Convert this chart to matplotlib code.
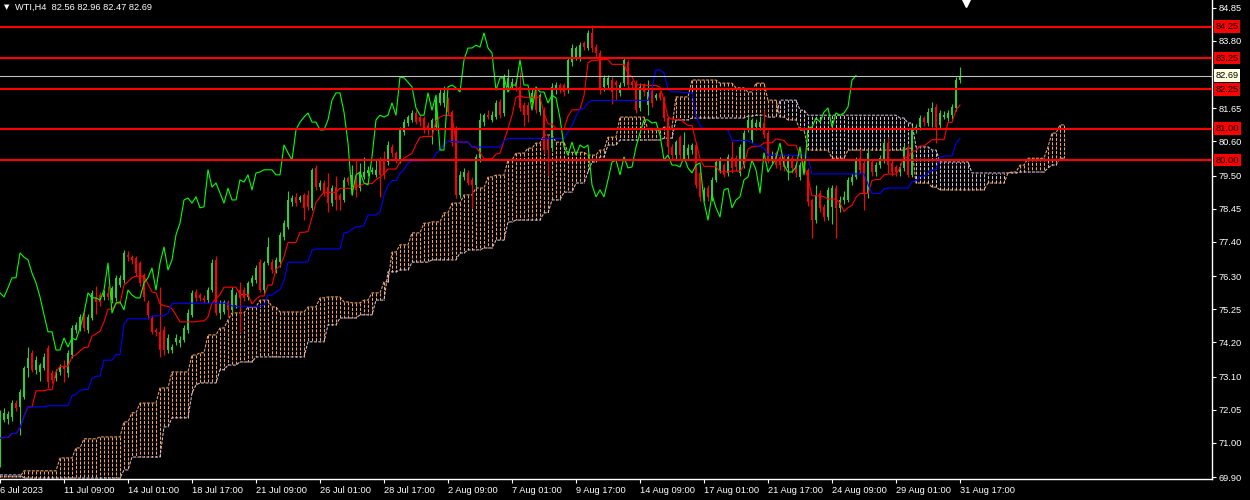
import numpy as np
import pandas as pd
import matplotlib
matplotlib.use("Agg")
import matplotlib.pyplot as plt
from matplotlib.transforms import blended_transform_factory

plt.rcParams['font.family'] = ['Liberation Sans', 'DejaVu Sans']

# WTI H4 candles, 6 Jul - 31 Aug 2023
opens = [70.61, 71.72, 71.75, 71.80, 72.26, 72.14, 72.46, 73.38, 73.86, 73.32,
         73.25, 73.38, 74.02, 73.22, 73.06, 73.25, 73.40, 73.22, 73.79, 74.59,
         74.65, 75.00, 74.60, 74.97, 75.64, 75.70, 75.64, 75.77, 75.54, 75.61,
         76.02, 76.18, 76.98, 76.91, 76.88, 76.72, 76.34, 75.45, 74.97, 74.59,
         74.53, 74.59, 73.95, 73.95, 74.20, 74.17, 74.27, 74.59, 75.07, 75.80,
         75.70, 75.61, 75.54, 75.86, 76.82, 75.13, 75.17, 75.48, 75.23, 75.39,
         75.86, 75.86, 75.64, 76.09, 76.18, 76.75, 75.86, 76.72, 76.75, 76.50,
         76.75, 77.55, 77.87, 78.67, 78.83, 78.73, 78.89, 78.89, 78.48, 79.75,
         79.14, 79.27, 79.14, 78.63, 79.14, 78.89, 78.73, 79.43, 79.05, 79.46,
         79.10, 79.46, 79.59, 79.62, 79.53, 80.00, 80.00, 79.94, 80.42, 80.23,
         80.00, 80.90, 81.18, 81.28, 81.50, 81.37, 81.34, 81.12, 80.96, 81.05,
         81.82, 81.82, 81.91, 81.53, 80.96, 78.89, 79.46, 79.59, 79.37, 79.21,
         80.06, 81.21, 81.43, 81.28, 81.37, 81.85, 81.50, 82.33, 82.39, 82.48,
         82.33, 81.75, 81.75, 81.85, 82.17, 81.53, 81.59, 80.70, 80.39, 82.23,
         82.39, 82.39, 82.23, 83.12, 83.28, 83.25, 83.72, 83.57, 84.05, 83.60,
         83.41, 82.33, 82.39, 82.55, 82.48, 82.14, 82.45, 83.12, 82.48, 82.45,
         81.66, 82.39, 81.75, 82.30, 81.98, 82.14, 81.98, 81.34, 80.42, 80.16,
         80.73, 80.10, 80.16, 80.32, 80.48, 79.59, 78.83, 79.10, 78.79, 79.37,
         79.69, 79.84, 79.59, 80.10, 80.06, 79.59, 79.84, 81.02, 80.64, 81.05,
         81.05, 81.18, 80.86, 80.00, 80.23, 80.10, 80.10, 79.75, 80.06, 79.84,
         79.46, 79.69, 79.69, 78.73, 78.09, 78.95, 78.51, 78.19, 78.51, 79.10,
         78.48, 78.73, 78.73, 79.30, 79.46, 80.06, 79.91, 78.95, 79.94, 79.62,
         79.84, 80.00, 80.54, 79.91, 79.78, 79.62, 79.75, 80.42, 79.53, 80.96,
         81.05, 81.34, 81.18, 81.53, 81.69, 81.12, 81.37, 81.34, 81.43, 81.66,
         82.56]
highs = [72.05, 72.10, 72.00, 72.35, 72.35, 72.70, 73.45, 74.05, 73.95, 73.75,
         73.55, 73.85, 74.12, 73.30, 73.35, 73.50, 73.63, 73.95, 74.75, 74.85,
         75.10, 75.15, 75.10, 75.85, 76.00, 75.80, 75.85, 76.00, 76.00, 76.35,
         76.35, 77.15, 77.10, 76.98, 76.95, 76.80, 76.40, 75.55, 75.05, 74.65,
         75.96, 74.70, 74.45, 74.15, 74.45, 74.40, 74.75, 75.25, 75.85, 75.90,
         75.78, 75.70, 75.95, 76.85, 76.95, 75.55, 75.55, 75.55, 75.95, 75.80,
         76.12, 75.95, 76.15, 76.35, 76.65, 76.85, 76.80, 77.55, 76.85, 76.90,
         77.70, 78.10, 79.00, 78.90, 78.95, 78.90, 78.95, 79.05, 79.75, 79.85,
         79.35, 79.35, 79.60, 79.20, 79.50, 78.95, 79.45, 79.50, 79.85, 80.00,
         79.90, 80.10, 79.80, 79.78, 80.00, 80.10, 80.30, 80.60, 80.50, 80.30,
         81.05, 81.30, 81.45, 81.60, 81.60, 81.45, 81.40, 81.20, 81.35, 82.00,
         82.25, 82.35, 82.00, 81.60, 81.10, 79.65, 79.75, 79.70, 79.45, 80.20,
         81.50, 81.50, 81.60, 81.55, 81.90, 81.95, 82.75, 82.90, 82.60, 82.55,
         82.80, 81.85, 81.85, 82.30, 82.25, 82.15, 81.70, 80.80, 82.45, 82.50,
         82.45, 82.45, 83.30, 83.70, 83.65, 83.75, 83.80, 84.15, 84.30, 83.70,
         83.50, 82.70, 82.70, 82.65, 82.55, 82.50, 83.30, 83.20, 82.55, 82.55,
         82.45, 82.45, 82.55, 82.40, 82.15, 82.20, 82.05, 81.40, 80.50, 80.65,
         80.80, 80.90, 80.50, 80.55, 80.55, 79.70, 79.15, 79.20, 79.45, 80.05,
         80.10, 79.90, 80.20, 80.60, 80.15, 80.50, 80.95, 81.40, 81.35, 81.30,
         81.40, 81.60, 80.95, 80.30, 80.30, 80.20, 80.15, 80.20, 80.15, 79.90,
         79.95, 80.00, 79.75, 78.80, 79.20, 79.05, 78.60, 79.15, 79.20, 79.20,
         78.85, 79.00, 79.45, 79.60, 80.10, 80.35, 80.00, 80.35, 80.00, 79.95,
         80.15, 80.65, 80.70, 80.00, 79.85, 79.90, 80.50, 80.50, 81.10, 81.15,
         81.45, 81.40, 81.65, 81.85, 81.80, 81.60, 81.55, 81.60, 81.80, 82.65,
         82.96]
lows = [70.23, 71.65, 71.60, 71.70, 72.00, 71.25, 72.40, 73.10, 73.25, 73.20,
        72.95, 73.30, 72.74, 72.90, 72.95, 73.15, 72.93, 73.10, 73.70, 74.50,
        74.55, 74.55, 74.50, 74.90, 75.10, 75.35, 75.55, 75.55, 75.45, 75.50,
        75.95, 76.10, 76.80, 76.70, 76.30, 76.00, 75.50, 74.95, 74.45, 74.40,
        73.73, 73.80, 73.85, 73.85, 74.10, 74.05, 74.20, 74.50, 75.00, 75.50,
        75.50, 75.45, 75.45, 75.80, 75.05, 74.95, 75.10, 75.00, 75.15, 75.30,
        74.49, 75.50, 75.55, 76.00, 76.10, 75.80, 75.75, 76.65, 76.40, 76.40,
        76.60, 77.45, 77.80, 78.55, 78.55, 78.65, 78.10, 78.40, 78.40, 79.05,
        79.05, 78.85, 78.35, 78.55, 78.40, 78.40, 78.65, 79.20, 78.90, 78.83,
        79.00, 79.40, 79.50, 79.55, 79.45, 78.83, 79.40, 79.85, 80.10, 79.90,
        79.90, 80.80, 81.10, 81.20, 81.15, 81.10, 80.85, 80.80, 80.50, 80.95,
        81.75, 81.70, 81.45, 80.45, 78.80, 78.80, 79.35, 79.20, 78.48, 79.10,
        79.95, 81.10, 81.30, 81.20, 81.30, 81.35, 81.40, 82.20, 82.30, 82.20,
        81.55, 81.10, 81.20, 81.75, 81.50, 81.45, 80.20, 79.50, 80.30, 82.10,
        82.15, 82.05, 82.15, 83.00, 83.20, 83.15, 83.50, 83.50, 83.45, 83.30,
        82.10, 82.20, 82.30, 81.80, 81.90, 82.05, 82.35, 82.30, 82.30, 81.50,
        81.55, 82.05, 81.45, 81.70, 81.90, 81.90, 81.25, 80.20, 80.05, 80.05,
        80.05, 80.00, 80.05, 80.20, 79.10, 78.70, 78.70, 78.70, 78.70, 79.30,
        79.60, 79.45, 79.50, 79.60, 79.65, 79.50, 79.75, 80.90, 80.55, 80.95,
        80.95, 80.70, 79.90, 79.90, 79.75, 79.70, 79.65, 79.35, 79.60, 79.45,
        79.35, 79.60, 78.55, 77.52, 78.00, 78.35, 78.05, 78.10, 77.95, 77.52,
        78.35, 78.60, 78.65, 79.20, 79.40, 79.60, 78.41, 78.80, 79.50, 79.50,
        79.75, 79.90, 79.60, 79.50, 79.50, 79.50, 79.65, 79.45, 79.45, 80.85,
        80.95, 81.10, 81.10, 81.05, 80.55, 81.00, 81.30, 81.25, 81.30, 81.55,
        82.47]
closes = [71.95, 71.95, 71.92, 72.26, 72.11, 72.61, 73.38, 73.70, 73.32, 73.63,
          73.47, 73.73, 72.93, 73.00, 73.25, 73.41, 73.36, 73.86, 74.65, 74.75,
          75.00, 74.65, 75.00, 75.77, 75.48, 75.48, 75.77, 75.64, 75.93, 76.25,
          76.25, 77.04, 76.91, 76.82, 76.40, 76.09, 75.64, 75.07, 74.53, 74.53,
          73.95, 73.95, 74.33, 74.05, 74.33, 74.27, 74.65, 75.13, 75.77, 75.61,
          75.61, 75.54, 75.86, 76.72, 75.13, 75.45, 75.48, 75.23, 75.86, 75.70,
          75.61, 75.61, 76.09, 76.25, 76.56, 75.86, 76.72, 77.23, 76.50, 76.82,
          77.62, 77.99, 78.73, 78.79, 78.63, 78.83, 78.48, 78.51, 79.69, 79.14,
          79.27, 78.95, 78.63, 79.10, 78.73, 78.73, 79.37, 79.30, 79.53, 79.05,
          79.59, 79.62, 79.69, 79.69, 79.69, 79.53, 79.53, 80.48, 80.23, 80.00,
          80.96, 81.21, 81.37, 81.50, 81.21, 81.21, 80.96, 80.96, 81.28, 81.91,
          82.14, 82.14, 81.53, 80.54, 78.89, 79.53, 79.62, 79.27, 79.21, 80.10,
          81.28, 81.43, 81.37, 81.43, 81.82, 81.43, 82.65, 82.62, 82.48, 82.33,
          81.66, 81.43, 81.43, 82.14, 81.59, 82.07, 80.32, 80.32, 82.33, 82.39,
          82.30, 82.17, 83.19, 83.57, 83.57, 83.66, 83.60, 84.05, 83.57, 83.41,
          82.23, 82.62, 82.62, 82.17, 82.39, 82.39, 83.19, 82.39, 82.39, 81.59,
          82.33, 82.17, 82.17, 81.82, 82.07, 81.98, 81.34, 80.42, 80.16, 80.57,
          80.16, 80.48, 80.39, 80.48, 79.21, 78.83, 79.05, 78.83, 79.37, 79.94,
          80.00, 79.53, 80.10, 79.75, 79.78, 80.42, 80.86, 81.28, 81.28, 81.18,
          81.21, 80.80, 80.00, 80.16, 79.84, 79.84, 79.78, 80.10, 79.75, 79.59,
          79.84, 79.91, 78.67, 78.09, 78.89, 78.48, 78.19, 79.05, 79.10, 78.48,
          78.73, 78.83, 79.37, 79.46, 80.00, 79.69, 78.95, 80.23, 79.62, 79.84,
          80.06, 80.54, 79.84, 79.62, 79.62, 79.78, 80.42, 79.53, 81.02, 81.05,
          81.34, 81.21, 81.53, 81.66, 81.05, 81.50, 81.43, 81.50, 81.69, 82.55,
          82.69]

# Ichimoku cloud spans (26 bars ahead), as (first bar, price) steps
span_a_steps = [(0, 69.91), (6, 70.10), (15, 70.51), (19, 70.83), (21, 71.12),
                (25, 71.18), (31, 71.66), (33, 71.95), (35, 72.26), (40, 72.74),
                (43, 73.25), (48, 73.79), (50, 73.86), (52, 74.43), (55, 74.65),
                (57, 74.91), (58, 75.13), (62, 75.32), (65, 75.54), (68, 75.32),
                (70, 75.16), (77, 75.32), (80, 75.61), (82, 75.64), (86, 75.48),
                (88, 75.45), (91, 75.54), (93, 75.77), (96, 76.12), (98, 77.07),
                (100, 77.30), (103, 77.68), (106, 77.99), (108, 78.03), (111, 78.32),
                (113, 78.63), (116, 78.89), (119, 79.11), (122, 79.46), (124, 79.52),
                (127, 80.00), (129, 80.22), (132, 80.38), (134, 80.54), (136, 80.80),
                (139, 80.57), (142, 80.25), (147, 80.16), (150, 80.32), (152, 80.73),
                (155, 81.37), (162, 80.96), (166, 81.05), (169, 82.01), (173, 82.55),
                (180, 82.45), (184, 82.30), (187, 82.17), (189, 82.45), (192, 81.91),
                (195, 81.37), (197, 81.28), (200, 80.96), (202, 80.32), (208, 80.06),
                (212, 80.32), (227, 80.38), (229, 79.27), (233, 79.14), (235, 79.05),
                (247, 79.27), (252, 79.59), (253, 79.62), (255, 79.84), (257, 80.06),
                (262, 80.42), (263, 80.86), (265, 81.12)]
span_b_steps = [(0, 69.97), (6, 69.87), (31, 70.13), (33, 70.54), (41, 71.50),
                (43, 71.79), (48, 72.58), (49, 72.84), (50, 72.90), (55, 73.32),
                (57, 73.47), (60, 73.57), (64, 73.73), (77, 74.21), (82, 74.75),
                (85, 74.97), (90, 75.07), (94, 75.54), (97, 76.44), (100, 76.50),
                (103, 76.75), (108, 76.82), (115, 77.04), (117, 77.14), (121, 77.20),
                (124, 77.45), (127, 78.03), (129, 78.09), (136, 78.32), (138, 78.73),
                (141, 78.98), (144, 79.27), (147, 79.62), (148, 79.94), (150, 80.10),
                (152, 80.48), (155, 80.64), (166, 80.70), (169, 81.28), (173, 81.34),
                (187, 81.40), (189, 81.43), (192, 81.37), (195, 81.91), (200, 81.59),
                (202, 81.43), (225, 81.34), (227, 81.18), (229, 80.42), (233, 80.32),
                (235, 79.94), (243, 79.59), (255, 79.62), (262, 79.75), (263, 79.84),
                (265, 80.06)]
cloud_len = 267

levels = [84.25, 83.25, 82.25, 81.00, 80.00]
bid = 82.69
price_ticks = [84.85, 83.80, 81.65, 80.60, 79.50, 78.45, 77.40, 76.30,
               75.25, 74.20, 73.10, 72.05, 71.00, 69.90]
time_ticks = [0, 16, 32, 48, 64, 80, 96, 112, 128, 144, 160, 176, 192, 208, 224, 240]
time_labels = ['6 Jul 2023', '11 Jul 09:00', '14 Jul 01:00', '18 Jul 17:00',
               '21 Jul 09:00', '26 Jul 01:00', '28 Jul 17:00', '2 Aug 09:00',
               '7 Aug 01:00', '9 Aug 17:00', '14 Aug 09:00', '17 Aug 01:00',
               '21 Aug 17:00', '24 Aug 09:00', '29 Aug 01:00', '31 Aug 17:00']
title = 'WTI,H4  82.56 82.96 82.47 82.69'


def expand(steps, n):
    out = np.empty(n)
    for k, (start, val) in enumerate(steps):
        end = steps[k + 1][0] if k + 1 < len(steps) else n
        out[start:end] = val
    return out


df = pd.DataFrame({'o': opens, 'h': highs, 'l': lows, 'c': closes})
n = len(df)
x = np.arange(n)
tenkan = (df.h.rolling(9, min_periods=1).max() + df.l.rolling(9, min_periods=1).min()) / 2
kijun = (df.h.rolling(26, min_periods=1).max() + df.l.rolling(26, min_periods=1).min()) / 2
chikou = df.c.values[26:]
span_a = expand(span_a_steps, cloud_len)
span_b = expand(span_b_steps, cloud_len)

SANDY = '#F4A460'
THISTLE = '#D8BFD8'
BULL = '#32CD32'
BEAR = '#FF0000'
FG = '#FFFFFF'
FS = 6.7
dash = (0, (2.9, 1.3))

fig = plt.figure(figsize=(12.5, 5), dpi=100, facecolor='black')
ax = fig.add_axes([0, 21 / 500, 1212 / 1250, 479 / 500])
ax.set_facecolor('black')
ax.set_xlim(0, 303)
ax.set_ylim(69.84, 85.10)

# cloud: dotted histogram between the spans
cx = np.arange(cloud_len)
cols = [SANDY if a >= b else THISTLE for a, b in zip(span_a, span_b)]
ax.vlines(cx, span_a, span_b, colors=cols, linestyles=dash, linewidth=0.75, zorder=1)
ax.plot(cx, span_a, color=SANDY, ls=dash, lw=0.75, zorder=1)
ax.plot(cx, span_b, color=THISTLE, ls=dash, lw=0.75, zorder=1)

# candles
up = df.c >= df.o
ccol = np.where(up, BULL, BEAR)
ax.vlines(x, df.l, df.h, colors=ccol, linewidth=0.8, zorder=2)
body_lo = np.minimum(df.o, df.c)
body_h = np.maximum(np.abs(df.c - df.o), 0.035)
ax.bar(x, body_h, bottom=body_lo, width=0.72, color=ccol, linewidth=0, zorder=2)

# ichimoku lines
ax.plot(x, tenkan, color='#FF0000', lw=0.8, zorder=3)
ax.plot(x, kijun, color='#0000FF', lw=0.8, zorder=3)
ax.plot(np.arange(len(chikou)), chikou, color='#00FF00', lw=0.8, zorder=3)

# horizontal levels and bid line
for lv in levels:
    ax.axhline(lv, color='#FF0000', lw=1.5, zorder=4)
ax.axhline(bid, color='#C0C0C0', lw=0.8, zorder=4)

# axes styling
for s in ['top', 'left']:
    ax.spines[s].set_visible(False)
for s in ['right', 'bottom']:
    ax.spines[s].set_color(FG)
    ax.spines[s].set_linewidth(1)
ax.yaxis.tick_right()
ax.set_yticks(price_ticks)
ax.set_yticklabels(['%.2f' % p for p in price_ticks])
ax.set_xticks(time_ticks)
ax.set_xticklabels(time_labels, ha='left')
ax.tick_params(axis='y', colors=FG, labelsize=FS, length=3, width=0.8, pad=2)
ax.tick_params(axis='x', colors=FG, labelsize=FS, length=3, width=0.8, pad=2)

# price boxes on the right scale
tr = blended_transform_factory(ax.transAxes, ax.transData)
for lv in levels:
    ax.text(1.0028, lv, '%.2f' % lv, transform=tr, ha='left', va='center',
            fontsize=FS, color='#000000', clip_on=False, zorder=6,
            bbox=dict(boxstyle='square,pad=0.2', fc='#FF0000', ec='none'))
ax.text(1.0028, bid, '%.2f' % bid, transform=tr, ha='left', va='center',
        fontsize=FS, color='#000000', clip_on=False, zorder=6,
        bbox=dict(boxstyle='square,pad=0.2', fc='#FFFFE0', ec='none'))

# header and shift marker
fig.text(4 / 1250, 1 - 7 / 500, '\u25bc', fontsize=5, color=FG, va='center',
         family='DejaVu Sans')
fig.text(15 / 1250, 1 - 7 / 500, title, fontsize=FS, color=FG, va='center')
ax.plot([241.5], [85.05], marker='v', ms=7, color=FG, clip_on=False, zorder=6)

fig.savefig('out.png', dpi=100, facecolor='black')
